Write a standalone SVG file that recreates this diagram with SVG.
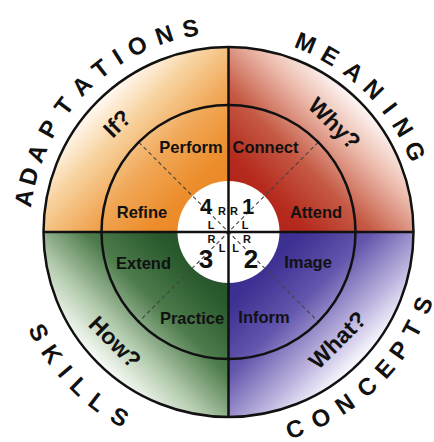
<svg xmlns="http://www.w3.org/2000/svg" width="434" height="442" viewBox="0 0 434 442">
<defs>
<linearGradient id="gOrange" gradientUnits="userSpaceOnUse" x1="228.5" y1="232" x2="97.7" y2="101.2">
<stop offset="0" stop-color="#e9841f"/><stop offset="0.3" stop-color="#ec8c2a"/><stop offset="0.55" stop-color="#f0a655"/><stop offset="0.8" stop-color="#f8d3a0"/><stop offset="1" stop-color="#fffaf3"/>
</linearGradient>
<linearGradient id="gRed" gradientUnits="userSpaceOnUse" x1="228.5" y1="232" x2="359.3" y2="101.2">
<stop offset="0" stop-color="#ab1f17"/><stop offset="0.3" stop-color="#b52a1d"/><stop offset="0.55" stop-color="#c55a45"/><stop offset="0.8" stop-color="#ebb8a8"/><stop offset="1" stop-color="#fdf6f4"/>
</linearGradient>
<linearGradient id="gGreen" gradientUnits="userSpaceOnUse" x1="228.5" y1="232" x2="97.7" y2="362.8">
<stop offset="0" stop-color="#1f4a25"/><stop offset="0.3" stop-color="#2a5a2e"/><stop offset="0.55" stop-color="#4e7c4d"/><stop offset="0.8" stop-color="#b4cbae"/><stop offset="1" stop-color="#f8fbf7"/>
</linearGradient>
<linearGradient id="gPurple" gradientUnits="userSpaceOnUse" x1="228.5" y1="232" x2="359.3" y2="362.8">
<stop offset="0" stop-color="#33288a"/><stop offset="0.3" stop-color="#3e3294"/><stop offset="0.55" stop-color="#6356ad"/><stop offset="0.8" stop-color="#b7aedb"/><stop offset="1" stop-color="#fbfaff"/>
</linearGradient>
<style>
text{font-family:"Liberation Sans",Arial,sans-serif;font-weight:bold;fill:#111;text-anchor:middle}
.ring{font-size:16.5px}
.q{font-size:23px}
.big{font-size:24px}
.num{font-size:22px}
.num2{font-size:26px}
.rl{font-size:11px}
.line{stroke:#111;stroke-width:2.5;fill:none}
.dash{stroke:#444;stroke-width:1.1;stroke-dasharray:4 3;fill:none}
</style>
</defs>
<rect width="434" height="442" fill="#fff"/>

<g id="quadrant-adaptations">
<path d="M228.5 232 L43.5 232 A185 185 0 0 1 228.5 47 Z" fill="url(#gOrange)"/>
<text class="ring" x="191" y="153">Perform</text>
<text class="ring" x="142" y="218">Refine</text>
<text class="q" transform="translate(117,123.5) rotate(-45)" y="8">If?</text>
<g class="big">
<text transform="translate(23.3,198) rotate(-80.6)" y="9">A</text>
<text transform="translate(28.2,176.1) rotate(-74.4)" y="9">D</text>
<text transform="translate(36.1,153.1) rotate(-67.7)" y="9">A</text>
<text transform="translate(48,128.6) rotate(-60.2)" y="9">P</text>
<text transform="translate(63.3,105.7) rotate(-52.6)" y="9">T</text>
<text transform="translate(81.2,85.2) rotate(-45.1)" y="9">A</text>
<text transform="translate(100.1,68.4) rotate(-38.1)" y="9">T</text>
<text transform="translate(117.3,56.2) rotate(-32.3)" y="9">I</text>
<text transform="translate(137,45.2) rotate(-26.1)" y="9">O</text>
<text transform="translate(163.9,34.3) rotate(-18.1)" y="9">N</text>
<text transform="translate(190.2,27.6) rotate(-10.6)" y="9">S</text>
</g>
</g>

<g id="quadrant-meaning">
<path d="M228.5 232 L228.5 47 A185 185 0 0 1 413.5 232 Z" fill="url(#gRed)"/>
<text class="ring" x="265.5" y="153">Connect</text>
<text class="ring" x="316" y="218">Attend</text>
<text class="q" transform="translate(334.5,123.5) rotate(45)" y="8">Why?</text>
<g class="big">
<text transform="translate(305.9,42.2) rotate(22.2)" y="9">M</text>
<text transform="translate(330.5,55.3) rotate(30)" y="9">E</text>
<text transform="translate(354.1,71.3) rotate(38)" y="9">A</text>
<text transform="translate(374,89) rotate(45.5)" y="9">N</text>
<text transform="translate(390.4,107.8) rotate(52.5)" y="9">I</text>
<text transform="translate(403.4,126.9) rotate(59)" y="9">N</text>
<text transform="translate(415.7,151) rotate(66.6)" y="9">G</text>
</g>
</g>

<g id="quadrant-skills">
<path d="M228.5 232 L228.5 417 A185 185 0 0 1 43.5 232 Z" fill="url(#gGreen)"/>
<text class="ring" x="143.5" y="269">Extend</text>
<text class="ring" x="192" y="324">Practice</text>
<text class="q" transform="translate(115,342) rotate(45)" y="8">How?</text>
<g class="big">
<text transform="translate(39.4,332.1) rotate(62.1)" y="9">S</text>
<text transform="translate(52.6,353.8) rotate(55.3)" y="9">K</text>
<text transform="translate(65.8,371) rotate(49.5)" y="9">I</text>
<text transform="translate(79.8,385.9) rotate(44)" y="9">L</text>
<text transform="translate(97.9,401.6) rotate(37.6)" y="9">L</text>
<text transform="translate(119.9,416.4) rotate(30.5)" y="9">S</text>
</g>
</g>

<g id="quadrant-concepts">
<path d="M228.5 232 L413.5 232 A185 185 0 0 1 228.5 417 Z" fill="url(#gPurple)"/>
<text class="ring" x="308" y="268">Image</text>
<text class="ring" x="264" y="323">Inform</text>
<text class="q" transform="translate(337.5,340) rotate(-45)" y="8">What?</text>
<g class="big">
<text transform="translate(294.5,428.2) rotate(-18.6)" y="9">C</text>
<text transform="translate(320.5,417.4) rotate(-26.4)" y="9">O</text>
<text transform="translate(344.5,403.4) rotate(-34.1)" y="9">N</text>
<text transform="translate(366.5,386.3) rotate(-41.8)" y="9">C</text>
<text transform="translate(384.2,368.4) rotate(-48.8)" y="9">E</text>
<text transform="translate(398.7,349.9) rotate(-55.3)" y="9">P</text>
<text transform="translate(411.5,328.9) rotate(-62.1)" y="9">T</text>
<text transform="translate(422.1,305.1) rotate(-69.3)" y="9">S</text>
</g>
</g>

<g id="center">
<circle cx="228.5" cy="232" r="51" fill="#fff"/>
</g>

<g id="connectors">
<line class="dash" x1="138.7" y1="142.2" x2="318.3" y2="321.8"/>
<line class="dash" x1="318.3" y1="142.2" x2="138.7" y2="321.8"/>
<circle class="line" cx="228.5" cy="232" r="127"/>
<circle class="line" cx="228.5" cy="232" r="185"/>
<line class="line" x1="43.5" y1="232" x2="413.5" y2="232"/>
<line class="line" x1="228.5" y1="47" x2="228.5" y2="417"/>
</g>

<g id="center-labels">
<text class="num" x="206" y="214">4</text>
<text class="num" x="248" y="214">1</text>
<text class="num2" x="206" y="268">3</text>
<text class="num2" x="251" y="268">2</text>
<text class="rl" x="222" y="215">R</text>
<text class="rl" x="234" y="215">R</text>
<text class="rl" x="211" y="229">L</text>
<text class="rl" x="245" y="229">L</text>
<text class="rl" x="211.5" y="243">R</text>
<text class="rl" x="222" y="252">L</text>
<text class="rl" x="235.5" y="252">L</text>
<text class="rl" x="247" y="243">R</text>
</g>
</svg>
